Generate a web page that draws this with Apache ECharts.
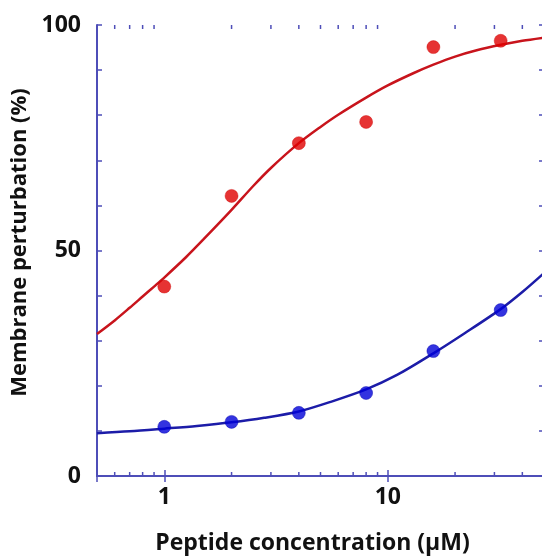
<!DOCTYPE html>
<html><head><meta charset="utf-8">
<style>html,body{margin:0;padding:0;background:#fff}#c{width:542px;height:557px}</style>
<script src="https://cdn.jsdelivr.net/npm/echarts@6/dist/echarts.min.js"></script>
</head><body><div id="c"></div>
<script>
// measured points
const concentrations = [1, 2, 4, 8, 16, 32];
const redValues = [42, 62.1, 73.8, 78.5, 95.1, 96.5];
const blueValues = [10.9, 12.0, 14.0, 18.4, 27.7, 36.8];
// fitted curves
const redCurveX = [0.5, 0.6, 0.7, 0.8, 0.9, 1, 1.25, 1.5, 2, 2.5, 3, 4, 5, 6, 8, 10, 13, 16, 20, 25, 32, 40, 50];
const redCurveY = [31.5, 34.5, 37.3, 39.8, 42, 44, 48.5, 52.5, 59, 64.3, 68.3, 73.8, 77.4, 80.1, 83.9, 86.6, 89.3, 91.2, 93, 94.4, 95.6, 96.5, 97.2];
const blueCurveX = [0.5, 0.7, 1, 1.4, 2, 2.8, 4, 5.6, 8, 11, 16, 22, 32, 40, 50];
const blueCurveY = [9.5, 9.9, 10.5, 11.1, 11.9, 12.9, 14.3, 16.5, 19.2, 22.4, 27.2, 31.6, 37.0, 40.8, 45.0];
// tick labels
const xMajorLabels = [1, 10];
const xMinorTicks = [0.6, 0.7, 0.8, 0.9, 2, 3, 4, 5, 6, 7, 8, 9, 20, 30, 40];
const yTickLabels = [0, 50, 100];

const AX = '#4e4eb8';
const FONT = 'Open Sans';
const zip = (a, b) => a.map((v, i) => [v, b[i]]);

const chart = echarts.init(document.getElementById('c'), null, {renderer: 'canvas'});
const isMajor = v => xMajorLabels.some(m => Math.abs(v - m) < 1e-6);

chart.setOption({
  animation: false,
  backgroundColor: '#fff',
  grid: {left: 97, top: 25, width: 447, height: 451, outerBoundsMode: 'none', containLabel: false},
  xAxis: [{
    type: 'log', logBase: 10, min: 0.5, max: 50, position: 'bottom',
    name: 'Peptide concentration (µM)', nameLocation: 'middle', nameGap: 56,
    nameTextStyle: {fontFamily: FONT, fontWeight: 'bold', fontSize: 23, color: '#111', padding: [0, 16, 0, 0]},
    axisLine: {show: true, lineStyle: {color: AX, width: 2}},
    axisTick: {show: true, inside: true, length: 6, lineStyle: {color: AX, width: 1.5}},
    axisLabel: {margin: 10, fontFamily: FONT, fontWeight: 'bold', fontSize: 23, color: '#111',
      formatter: v => isMajor(v) ? String(Math.round(v)) : ''},
    splitLine: {show: false}
  }, {
    type: 'log', logBase: 10, min: 0.5, max: 50, position: 'top',
    axisLine: {show: true, lineStyle: {color: AX, width: 2}},
    axisTick: {show: true, inside: true, length: 6, lineStyle: {color: AX, width: 1.5}},
    axisLabel: {show: false}, splitLine: {show: false}
  }],
  yAxis: [{
    type: 'value', min: 0, max: 100, interval: 50, position: 'left',
    name: 'Membrane perturbation (%)', nameLocation: 'middle', nameGap: 56,
    nameTextStyle: {fontFamily: FONT, fontWeight: 'bold', fontSize: 22, color: '#111', padding: [0, 0, 0, 16]},
    axisLine: {show: true, lineStyle: {color: AX, width: 2}},
    axisTick: {show: true, inside: true, length: 5, lineStyle: {color: AX, width: 1.5}},
    minorTick: {show: true, splitNumber: 5, length: 5, lineStyle: {color: AX, width: 1.5}},
    axisLabel: {margin: 16, fontFamily: FONT, fontWeight: 'bold', fontSize: 23, color: '#111',
      formatter: v => yTickLabels.includes(v) ? String(v) : ''},
    splitLine: {show: false}, minorSplitLine: {show: false}
  }, {
    type: 'value', min: 0, max: 100, interval: 50, position: 'right',
    axisLine: {show: true, lineStyle: {color: AX, width: 2}},
    axisTick: {show: true, inside: true, length: 5, lineStyle: {color: AX, width: 1.5}},
    minorTick: {show: true, splitNumber: 5, length: 5, lineStyle: {color: AX, width: 1.5}},
    axisLabel: {show: false}, splitLine: {show: false}
  }],
  series: [
    {
      type: 'custom', silent: true, xAxisIndex: 0, yAxisIndex: 0,
      data: xMinorTicks.map(v => [v, 0]), encode: {x: 0, y: 1},
      clip: false,
      renderItem: (params, api) => {
        const v = api.value(0);
        const b = api.coord([v, 0]);
        const t = api.coord([v, 100]);
        const st = {stroke: AX, lineWidth: 1.5};
        return {type: 'group', children: [
          {type: 'line', shape: {x1: b[0], y1: b[1], x2: b[0], y2: b[1] - 4}, style: st},
          {type: 'line', shape: {x1: t[0], y1: t[1], x2: t[0], y2: t[1] + 4}, style: st}
        ]};
      }
    },
    {type: 'line', data: zip(redCurveX, redCurveY), smooth: 0.3, showSymbol: false, symbol: 'none',
      lineStyle: {color: '#c8141c', width: 2.5}, z: 3},
    {type: 'line', data: zip(blueCurveX, blueCurveY), smooth: 0.3, showSymbol: false, symbol: 'none',
      lineStyle: {color: '#1c1ca8', width: 2.5}, z: 3},
    {type: 'scatter', data: zip(concentrations, redValues), symbolSize: 13,
      itemStyle: {color: '#e00000', borderColor: '#c00', borderWidth: 0.5}, z: 4},
    {type: 'scatter', data: zip(concentrations, blueValues), symbolSize: 13,
      itemStyle: {color: '#0000d8', borderColor: '#00a', borderWidth: 0.5}, z: 4}
  ]
});
</script></body></html>
